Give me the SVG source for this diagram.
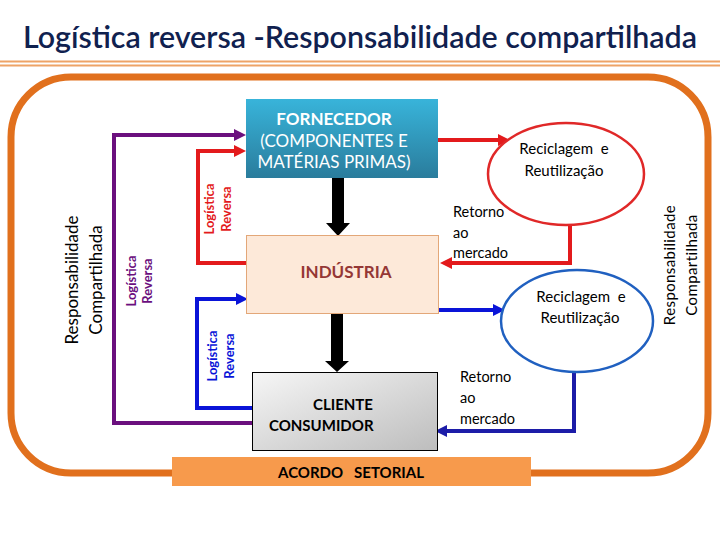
<svg xmlns="http://www.w3.org/2000/svg" width="720" height="540" viewBox="0 0 720 540">
<defs>
<linearGradient id="gF" x1="0" y1="0" x2="0" y2="1"><stop offset="0" stop-color="#38b4da"/><stop offset="1" stop-color="#2a7c9c"/></linearGradient>
<linearGradient id="gC" x1="0" y1="0" x2="1" y2="1"><stop offset="0" stop-color="#f6f6f6"/><stop offset="1" stop-color="#bdbdbd"/></linearGradient>
<marker id="mRed" markerUnits="userSpaceOnUse" markerWidth="12" markerHeight="12" refX="2" refY="6" orient="auto"><path d="M0,0 L12,6 L0,12 z" fill="#e31a1c"/></marker>
<marker id="mPur" markerUnits="userSpaceOnUse" markerWidth="12" markerHeight="12" refX="2" refY="6" orient="auto"><path d="M0,0 L12,6 L0,12 z" fill="#6b0f7e"/></marker>
<marker id="mBlue" markerUnits="userSpaceOnUse" markerWidth="12" markerHeight="12" refX="2" refY="6" orient="auto"><path d="M0,0 L12,6 L0,12 z" fill="#0a14d8"/></marker>
<marker id="mDBlue" markerUnits="userSpaceOnUse" markerWidth="12" markerHeight="12" refX="2" refY="6" orient="auto"><path d="M0,0 L12,6 L0,12 z" fill="#1c1ca8"/></marker>
</defs>
<style>
text{font-family:Lato,"Open Sans","Liberation Sans",sans-serif}
.ln{fill:none;stroke-width:4}
.red{stroke:#e31a1c}
.pur{stroke:#6b0f7e}
.blue{stroke:#0a14d8}
.dblue{stroke:#1c1ca8}
.lab{font-size:14.5px;fill:#000}
.lr{font-size:13px;font-weight:bold}
.rc{font-size:15px;fill:#000;text-anchor:middle}
</style>

<text x="360" y="48" text-anchor="middle" font-size="30" font-weight="600" fill="#10214f" textLength="674" lengthAdjust="spacingAndGlyphs">Logística reversa -Responsabilidade compartilhada</text>
<g id="divider">
<line x1="0" y1="61.5" x2="720" y2="61.5" stroke="#eea366" stroke-width="2"/>
<line x1="0" y1="65.5" x2="720" y2="65.5" stroke="#eea366" stroke-width="2"/>
</g>

<g id="frame">
<rect x="11" y="77" width="697" height="396" rx="60" ry="60" fill="none" stroke="#e1701d" stroke-width="7"/>
</g>

<g id="connectors">
<path class="ln pur" d="M252,423 H114 V135 H236" marker-end="url(#mPur)"/>
<path class="ln red" d="M246,263 H198 V151 H236" marker-end="url(#mRed)"/>
<path class="ln blue" d="M252,408 H197 V299 H238" marker-end="url(#mBlue)"/>
<path class="ln red" d="M438,140 H500" marker-end="url(#mRed)"/>
<path class="ln red" stroke-width="5" d="M570,225 V263 H450" marker-end="url(#mRed)"/>
<path class="ln blue" d="M439,310 H495" marker-end="url(#mBlue)"/>
<path class="ln dblue" d="M574,372 V431 H445" marker-end="url(#mDBlue)"/>
<polygon points="332,178 344,178 344,223 350,223 338,236 326,223 332,223" fill="#000"/>
<polygon points="331,314 343,314 343,361 349,361 337,372 325,361 331,361" fill="#000"/>
</g>

<g id="fornecedor">
<rect x="246" y="99" width="192" height="79" fill="url(#gF)"/>
<text x="334" y="125" text-anchor="middle" font-size="17" font-weight="bold" fill="#fff">FORNECEDOR</text>
<text x="334" y="147" text-anchor="middle" font-size="17" fill="#fff">(COMPONENTES E</text>
<text x="334" y="168" text-anchor="middle" font-size="17" fill="#fff">MATÉRIAS PRIMAS)</text>
</g>

<g id="industria">
<rect x="246.5" y="235.5" width="192" height="78" fill="#fde9d9" stroke="#e3a778" stroke-width="1"/>
<text x="346" y="278" text-anchor="middle" font-size="17" font-weight="bold" fill="#953735">INDÚSTRIA</text>
</g>

<g id="cliente">
<rect x="252.5" y="372.5" width="185" height="78" fill="url(#gC)" stroke="#000" stroke-width="1"/>
<text x="343" y="410" text-anchor="middle" font-size="15" font-weight="bold" fill="#000">CLIENTE</text>
<text x="269" y="431" font-size="15" font-weight="bold" fill="#000">CONSUMIDOR</text>
</g>

<g id="acordo">
<rect x="172" y="457" width="359" height="29" fill="#f79a4c"/>
<text x="351" y="478" text-anchor="middle" font-size="15" font-weight="bold" fill="#000" style="white-space:pre">ACORDO   SETORIAL</text>
</g>

<g id="reciclagem1">
<ellipse cx="566" cy="174" rx="78" ry="51" fill="#fff" stroke="#e02828" stroke-width="2.5"/>
<text class="rc" x="564" y="154" style="white-space:pre">Reciclagem  e</text>
<text class="rc" x="564" y="176">Reutilização</text>
</g>

<g id="reciclagem2">
<ellipse cx="577" cy="321" rx="76" ry="51" fill="#fff" stroke="#2060c0" stroke-width="2.5"/>
<text class="rc" x="581" y="302" style="white-space:pre">Reciclagem  e</text>
<text class="rc" x="580" y="323">Reutilização</text>
</g>

<g id="labels">
<text class="lab" x="453" y="217">Retorno</text>
<text class="lab" x="453" y="238">ao</text>
<text class="lab" x="453" y="258">mercado</text>
<text class="lab" x="460" y="382">Retorno</text>
<text class="lab" x="460" y="403">ao</text>
<text class="lab" x="460" y="424">mercado</text>

<text transform="translate(78,280) rotate(-90)" text-anchor="middle" font-size="17" fill="#000">Responsabilidade</text>
<text transform="translate(102,280) rotate(-90)" text-anchor="middle" font-size="17" fill="#000">Compartilhada</text>
<text transform="translate(675,265) rotate(-90)" text-anchor="middle" font-size="15" letter-spacing="0.4" fill="#000">Responsabilidade</text>
<text transform="translate(697,265) rotate(-90)" text-anchor="middle" font-size="15" letter-spacing="0.4" fill="#000">Compartilhada</text>

<text class="lr" transform="translate(136,281) rotate(-90)" text-anchor="middle" fill="#6b0f7e">Logística</text>
<text class="lr" transform="translate(152,281) rotate(-90)" text-anchor="middle" fill="#6b0f7e">Reversa</text>
<text class="lr" transform="translate(214,209) rotate(-90)" text-anchor="middle" fill="#e31a1c">Logística</text>
<text class="lr" transform="translate(231,209) rotate(-90)" text-anchor="middle" fill="#e31a1c">Reversa</text>
<text class="lr" transform="translate(217,356) rotate(-90)" text-anchor="middle" fill="#0a14d8">Logística</text>
<text class="lr" transform="translate(234,356) rotate(-90)" text-anchor="middle" fill="#0a14d8">Reversa</text>
</g>
</svg>
